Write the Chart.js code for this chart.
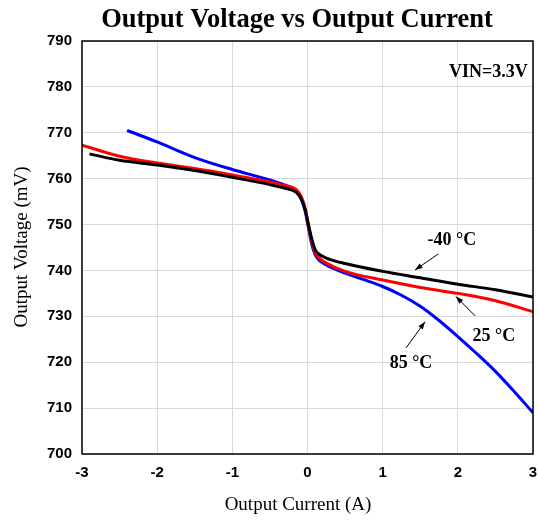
<!DOCTYPE html>
<html>
<head>
<meta charset="utf-8">
<script src="https://cdn.jsdelivr.net/npm/chart.js@4.4.0/dist/chart.umd.min.js"></script>
<style>
html,body{margin:0;padding:0;background:#fff;}
#wrap{width:539px;height:522px;position:relative;}
</style>
</head>
<body>
<div id="wrap"><canvas id="c" width="539" height="522"></canvas></div>
<script>
// ---- data ----
const seriesNames = ["-40 °C", "25 °C", "85 °C"];
const xTicks = [-3, -2, -1, 0, 1, 2, 3];
const yTicks = [700, 710, 720, 730, 740, 750, 760, 770, 780, 790];

const currentM40 = [-2.9, -2.5, -2.0, -1.5, -1.0, -0.5, -0.3, -0.15, -0.08, -0.03, 0.01, 0.055, 0.1, 0.15, 0.25, 0.5, 1.0, 1.5, 2.0, 2.5, 3.0];
const voltageM40 = [765.4, 764.0, 763.0, 761.8, 760.3, 758.7, 757.9, 757.0, 755.5, 753.2, 750.2, 747.0, 744.6, 743.6, 742.7, 741.5, 739.8, 738.4, 737.0, 735.8, 734.2];

const current25 = [-3.0, -2.5, -2.0, -1.5, -1.0, -0.5, -0.3, -0.15, -0.08, -0.03, 0.01, 0.055, 0.1, 0.15, 0.25, 0.5, 1.0, 1.5, 2.0, 2.5, 3.0];
const voltage25 = [767.3, 764.9, 763.4, 762.2, 760.8, 759.3, 758.5, 757.6, 756.0, 753.4, 750.0, 746.5, 744.0, 742.8, 741.6, 739.8, 737.9, 736.3, 735.0, 733.4, 731.0];

const current85 = [-2.4, -2.0, -1.5, -1.0, -0.5, -0.3, -0.15, -0.08, -0.03, 0.01, 0.055, 0.1, 0.15, 0.25, 0.5, 0.75, 1.0, 1.25, 1.5, 1.75, 2.0, 2.25, 2.5, 2.75, 3.0];
const voltage85 = [770.5, 768.0, 764.6, 762.0, 759.7, 758.6, 757.4, 755.4, 752.8, 749.5, 745.8, 743.5, 742.3, 741.2, 739.4, 738.0, 736.5, 734.6, 732.2, 729.1, 725.6, 721.9, 718.0, 713.6, 709.0];

function pts(xs, ys){ return xs.map((x,i)=>({x:x, y:ys[i]})); }

const SERIF = '"Liberation Serif", "Times New Roman", serif';
const SANS = '"Liberation Sans", Arial, sans-serif';

const textPlugin = {
  id: 'texts',
  afterDraw(chart){
    const ctx = chart.ctx, xs = chart.scales.x, ys = chart.scales.y, a = chart.chartArea;
    ctx.save();
    // frame
    ctx.strokeStyle = '#000'; ctx.lineWidth = 1.5;
    ctx.strokeRect(a.left, a.top, a.right - a.left, a.bottom - a.top);
    // title
    ctx.fillStyle = '#000';
    ctx.font = 'bold 26.5px ' + SERIF;
    ctx.textAlign = 'center'; ctx.textBaseline = 'middle';
    ctx.fillText('Output Voltage vs Output Current', 297, 20);
    // axis titles
    ctx.font = '19px ' + SERIF;
    ctx.fillText('Output Current (A)', 298, 505);
    ctx.save();
    ctx.translate(22, 247);
    ctx.rotate(-Math.PI/2);
    ctx.fillText('Output Voltage (mV)', 0, 0);
    ctx.restore();
    // annotations
    ctx.font = 'bold 18px ' + SERIF;
    ctx.textAlign = 'right';
    ctx.fillText('VIN=3.3V', xs.getPixelForValue(2.93), ys.getPixelForValue(783.2));
    ctx.textAlign = 'center';
    const labels = [
      {t: seriesNames[0], x: 1.92, y: 746.6, ax1: 1.74, ay1: 743.6, ax2: 1.43, ay2: 740.1},
      {t: seriesNames[1], x: 2.48, y: 725.7, ax1: 2.23, ay1: 730.1, ax2: 1.975, ay2: 734.3},
      {t: seriesNames[2], x: 1.377, y: 719.8, ax1: 1.31, ay1: 723.1, ax2: 1.563, ay2: 728.8}
    ];
    labels.forEach(l => {
      ctx.fillText(l.t, xs.getPixelForValue(l.x), ys.getPixelForValue(l.y));
      const x1 = xs.getPixelForValue(l.ax1), y1 = ys.getPixelForValue(l.ay1);
      const x2 = xs.getPixelForValue(l.ax2), y2 = ys.getPixelForValue(l.ay2);
      ctx.strokeStyle = '#000'; ctx.lineWidth = 1;
      ctx.beginPath(); ctx.moveTo(x1, y1); ctx.lineTo(x2, y2); ctx.stroke();
      const ang = Math.atan2(y2 - y1, x2 - x1), L = 8, W = 0.35;
      ctx.beginPath();
      ctx.moveTo(x2, y2);
      ctx.lineTo(x2 - L*Math.cos(ang - W), y2 - L*Math.sin(ang - W));
      ctx.lineTo(x2 - L*Math.cos(ang + W), y2 - L*Math.sin(ang + W));
      ctx.closePath(); ctx.fill();
    });
    ctx.restore();
  }
};

const common = {showLine: true, pointRadius: 0, borderWidth: 3, fill: false, cubicInterpolationMode: 'monotone'};

new Chart(document.getElementById('c'), {
  type: 'scatter',
  data: {
    datasets: [
      Object.assign({label: seriesNames[0], data: pts(currentM40, voltageM40), borderColor: '#000000'}, common),
      Object.assign({label: seriesNames[1], data: pts(current25, voltage25), borderColor: '#ff0000'}, common),
      Object.assign({label: seriesNames[2], data: pts(current85, voltage85), borderColor: '#0000ff'}, common)
    ]
  },
  options: {
    responsive: false,
    animation: false,
    layout: {padding: {top: 41, right: 6, left: 0, bottom: 0}},
    plugins: {legend: {display: false}, title: {display: false}, tooltip: {enabled: false}},
    scales: {
      x: {
        type: 'linear', min: -3, max: 3,
        afterBuildTicks: s => { s.ticks = xTicks.map(v => ({value: v})); },
        afterFit: s => { s.height = 68; s.paddingLeft = 0; s.paddingRight = 0; },
        grid: {color: '#d9d9d9', lineWidth: 1, drawTicks: false},
        border: {display: false},
        ticks: {color: '#000', font: {family: SANS, size: 15, weight: 'bold'}, padding: 10, maxRotation: 0}
      },
      y: {
        type: 'linear', min: 700, max: 790,
        afterBuildTicks: s => { s.ticks = yTicks.map(v => ({value: v})); },
        afterFit: s => { s.width = 82; s.paddingTop = 0; s.paddingBottom = 0; },
        grid: {color: '#d9d9d9', lineWidth: 1, drawTicks: false},
        border: {display: false},
        ticks: {color: '#000', font: {family: SANS, size: 15, weight: 'bold'}, padding: 10}
      }
    }
  },
  plugins: [textPlugin]
});
</script>
</body>
</html>
